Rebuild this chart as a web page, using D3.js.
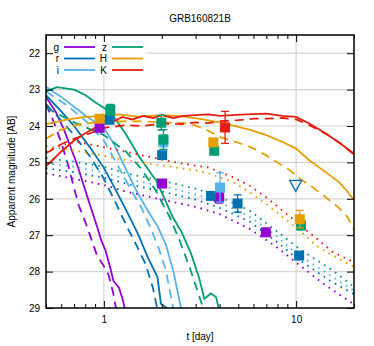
<!DOCTYPE html>
<html>
<head>
<meta charset="utf-8">
<script src="https://cdn.jsdelivr.net/npm/d3@7"></script>
<style>
  body { margin: 0; background: #fff; }
  text { font-family: "Liberation Sans", Arial, sans-serif; font-size: 10px; fill: #000; }
</style>
</head>
<body>
<svg id="chart" width="374" height="346"></svg>
<script>
// ---- data (t in days, AB mag) ----
var bands = ["g", "r", "i", "z", "H", "K"];
var legendLabels = ["g", "r", "i", "z", "H", "K"];
var yTicks = [22, 23, 24, 25, 26, 27, 28, 29];
var xMajor = [1, 10];
var xMinor = [0.5, 0.6, 0.7, 0.8, 0.9, 2, 3, 4, 5, 6, 7, 8, 9, 20];

// model curves: solid / dashed / dotted per band
var gSolid  = [[0.5,23.2],[0.56,23.6],[0.62,24.1],[0.68,24.66],[0.73,25.1],[0.78,25.58],[0.85,26.2],[0.92,26.75],[0.97,27.15],[1.02,27.42],[1.08,27.9],[1.12,28.25],[1.2,28.45],[1.25,28.75],[1.29,29.05]];
var gDashed = [[0.5,23.4],[0.55,23.9],[0.6,24.45],[0.65,25.05],[0.69,25.58],[0.74,26.18],[0.8,26.63],[0.86,27.1],[0.92,27.55],[1.0,27.85],[1.06,28.1],[1.12,28.6],[1.16,29.05]];
var gDotted = [[0.5,25.3],[0.7,25.45],[1,25.62],[1.3,25.8],[2,26.02],[3,26.22],[4,26.42],[5.7,26.82],[7.8,27.3],[10,27.75],[14,28.35],[20,28.9]];

var rSolid  = [[0.5,23.15],[0.6,23.6],[0.7,24.0],[0.85,24.6],[1.0,25.15],[1.15,25.75],[1.28,26.22],[1.5,26.95],[1.69,27.6],[1.9,28.15],[1.98,28.88],[2.1,28.98],[2.15,29.1]];
var rDashed = [[0.5,23.4],[0.6,23.85],[0.7,24.25],[0.85,24.85],[1.0,25.45],[1.15,26.1],[1.3,26.7],[1.5,27.35],[1.65,27.8],[1.8,28.45],[1.9,29.05]];
var rDotted = [[0.5,25.16],[0.7,25.27],[1,25.42],[1.3,25.58],[2,25.8],[3,26.02],[4,26.25],[5.7,26.62],[7.8,27.15],[10,27.62],[15,28.25],[20,28.62]];

var iSolid  = [[0.5,22.92],[0.6,23.2],[0.7,23.47],[0.82,23.75],[1.0,24.05],[1.13,24.5],[1.28,25.1],[1.45,25.7],[1.68,26.3],[1.9,26.75],[2.1,27.25],[2.3,28.0],[2.53,29.05]];
var iDashed = [[0.5,23.05],[0.65,23.45],[0.8,23.85],[1.0,24.4],[1.2,25.15],[1.4,25.8],[1.56,26.22],[1.75,26.8],[1.94,27.4],[2.1,27.95],[2.3,29.05]];
var iDotted = [[0.5,25.02],[0.7,25.12],[1,25.28],[1.3,25.45],[2,25.65],[3,25.88],[4,26.1],[5.7,26.48],[7.8,27.0],[10,27.5],[15,28.1],[20,28.52]];

var zSolid  = [[0.5,23.05],[0.57,22.93],[0.7,23.0],[0.8,23.15],[0.9,23.35],[1.0,23.5],[1.08,23.62],[1.2,23.95],[1.31,24.25],[1.53,24.85],[1.87,25.5],[2.05,25.95],[2.28,26.5],[2.53,26.9],[2.84,27.5],[3.14,28.2],[3.33,28.75],[3.6,28.6],[3.83,28.7],[3.98,29.05]];
var zDashed = [[0.5,23.5],[0.7,23.9],[1.0,24.25],[1.3,24.7],[1.55,25.15],[1.85,25.75],[2.2,26.5],[2.5,27.2],[2.8,27.9],[3.1,28.6],[3.3,29.05]];
var zDotted = [[0.5,24.88],[0.7,24.98],[1,25.12],[1.3,25.3],[2,25.5],[3,25.72],[4,25.95],[5.7,26.31],[7.8,26.86],[10.3,27.36],[15.4,27.96],[20,28.42]];

var hSolid  = [[0.5,23.95],[0.65,23.82],[0.8,23.75],[1.0,23.72],[1.2,23.68],[1.5,23.74],[2.0,23.7],[2.5,23.73],[3.1,23.8],[4.0,23.9],[4.66,23.98],[5.7,24.1],[7.0,24.25],[8.5,24.44],[10,24.62],[11.7,24.94],[14.2,25.26],[16.7,25.54],[18.5,25.8],[20,26.04]];
var hDashed = [[0.5,24.35],[0.6,24.1],[0.75,23.95],[1.0,23.88],[1.5,23.87],[2.0,23.9],[2.8,23.93],[3.4,24.1],[4.0,24.3],[4.87,24.44],[5.93,24.6],[6.95,24.8],[8.15,25.03],[9.2,25.2],[10.4,25.44],[12.1,25.67],[14.2,25.95],[16.7,26.25],[18.5,26.5],[20,26.85]];
var hDotted = [[0.5,24.55],[0.75,24.7],[1,24.82],[1.5,25.0],[2,25.08],[3,25.22],[3.5,25.3],[4.66,25.53],[5.7,25.81],[6.95,26.13],[8.5,26.5],[10.4,26.86],[12.6,27.27],[15.4,27.55],[20,27.87]];

var kSolid  = [[0.5,25.1],[0.55,24.9],[0.6,24.7],[0.7,24.4],[0.8,24.2],[0.9,24.05],[1.0,23.85],[1.1,23.9],[1.25,23.75],[1.4,23.82],[1.6,23.72],[1.8,23.78],[2.0,23.7],[2.3,23.78],[2.6,23.72],[3.0,23.7],[3.5,23.68],[4.0,23.72],[4.66,23.7],[5.5,23.68],[7.0,23.66],[8.5,23.72],[10,23.75],[11.7,23.93],[14.2,24.2],[17,24.48],[20,24.76]];
var kDashed = [[0.5,24.75],[0.6,24.5],[0.7,24.35],[0.85,24.2],[1.0,24.05],[1.3,23.98],[1.6,24.0],[2.0,23.93],[2.5,23.95],[3.0,23.9],[3.5,23.92],[4.0,23.87],[5.0,23.84],[6.0,23.8],[7.0,23.8],[8.5,23.78],[10,23.82],[11.5,23.95],[13,24.1],[15,24.28],[17,24.48],[20,24.78]];
var kDotted = [[0.5,24.7],[0.6,24.52],[0.73,24.44],[1,24.58],[1.5,24.78],[2.3,24.99],[3.1,25.1],[3.5,25.14],[4.66,25.4],[5.7,25.63],[6.95,25.95],[8.4,26.3],[10,26.63],[12.5,27.05],[15.4,27.45],[20,27.75]];

// observations
var obsBand = ["g","g","g","g", "r","r","r","r","r", "i","i", "z","z","z","z","z", "H","H","H", "K"];
var obsT    = [0.95,2.01,3.98,6.96, 1.07,2.01,3.61,4.96,10.37, 2.04,4.02, 1.08,1.99,2.04,3.75,10.6, 0.95,3.71,10.45, 4.27];
var obsMag  = [24.05,25.58,25.97,26.92, 23.83,24.8,25.92,26.13,27.56, 24.45,25.69, 23.56,23.91,24.37,24.68,26.73, 23.8,24.45,26.56, 24.04];
var obsErr  = [0.08,0.1,0.15,0.1, 0.06,0.08,0.1,0.24,0.08, 0.2,0.4, 0.15,0.2,0.27,0.08,0.12, 0.1,0.08,0.24, 0.44];

// upper limit
var ulBand = ["r"];
var ulT = [9.95];
var ulMag = [25.63];

// ---- styles ----
var color = {g: "#9400d3", r: "#0072b2", i: "#56b4e9", z: "#009e73", H: "#e69f00", K: "#e51e10"};
var curves = [
  {b: "g", s: "solid", d: gSolid}, {b: "g", s: "dashed", d: gDashed}, {b: "g", s: "dotted", d: gDotted},
  {b: "r", s: "solid", d: rSolid}, {b: "r", s: "dashed", d: rDashed}, {b: "r", s: "dotted", d: rDotted},
  {b: "i", s: "solid", d: iSolid}, {b: "i", s: "dashed", d: iDashed}, {b: "i", s: "dotted", d: iDotted},
  {b: "z", s: "solid", d: zSolid}, {b: "z", s: "dashed", d: zDashed}, {b: "z", s: "dotted", d: zDotted},
  {b: "H", s: "solid", d: hSolid}, {b: "H", s: "dashed", d: hDashed}, {b: "H", s: "dotted", d: hDotted},
  {b: "K", s: "solid", d: kSolid}, {b: "K", s: "dashed", d: kDashed}, {b: "K", s: "dotted", d: kDotted}
];
var dash = {solid: null, dashed: "9,6", dotted: "1.6,5"};

var svg = d3.select("#chart"),
    margin = {top: 35, right: 20, bottom: 38, left: 46},
    W = +svg.attr("width"), H = +svg.attr("height"),
    width = W - margin.left - margin.right,
    height = H - margin.top - margin.bottom;

var x = d3.scaleLog().domain([0.5, 20]).range([0, width]);
var y = d3.scaleLinear().domain([21.5, 29]).range([0, height]);

var g = svg.append("g").attr("transform", "translate(" + margin.left + "," + margin.top + ")");

svg.append("defs").append("clipPath").attr("id", "clip")
  .append("rect").attr("width", width).attr("height", height);

// grid
g.selectAll(".hgrid").data(yTicks.slice(0, -1)).enter().append("line")
  .attr("x1", 0).attr("x2", width)
  .attr("y1", function(d){ return y(d); }).attr("y2", function(d){ return y(d); })
  .attr("stroke", "#d4d4d4").attr("stroke-width", 1.2);
g.selectAll(".vgrid").data(xMajor).enter().append("line")
  .attr("y1", 0).attr("y2", height)
  .attr("x1", function(d){ return x(d); }).attr("x2", function(d){ return x(d); })
  .attr("stroke", "#d4d4d4").attr("stroke-width", 1.2);

// model lines
var line = d3.line()
  .x(function(d){ return x(d[0]); })
  .y(function(d){ return y(d[1]); });

var plot = g.append("g").attr("clip-path", "url(#clip)");

plot.selectAll(".model").data(curves).enter().append("path")
  .attr("class", "model")
  .attr("d", function(c){ return line(c.d); })
  .attr("fill", "none")
  .attr("stroke", function(c){ return color[c.b]; })
  .attr("stroke-width", function(c){ return c.s === "dotted" ? 1.9 : 1.8; })
  .attr("stroke-dasharray", function(c){ return dash[c.s]; });

// observed points
var obs = obsT.map(function(t, k){
  return {b: obsBand[k], t: t, m: obsMag[k], e: obsErr[k]};
});
obs.sort(function(a, b){ return bands.indexOf(a.b) - bands.indexOf(b.b); });

var pts = plot.selectAll(".pt").data(obs).enter().append("g").attr("class", "pt")
  .attr("transform", function(d){ return "translate(" + x(d.t) + "," + y(d.m) + ")"; });
pts.append("path")
  .attr("d", function(d){
    var t = y(d.m - d.e) - y(d.m), b = y(d.m + d.e) - y(d.m);
    return "M0," + t + "V" + b + "M-4," + t + "H4M-4," + b + "H4";
  })
  .attr("stroke", function(d){ return color[d.b]; })
  .attr("stroke-width", 1.3).attr("fill", "none");
pts.append("rect")
  .attr("x", -5).attr("y", -5).attr("width", 10).attr("height", 10)
  .attr("fill", function(d){ return color[d.b]; });

// upper limit
plot.selectAll(".ul").data(ulT).enter().append("path")
  .attr("d", function(t, k){
    var cx = x(t), cy = y(ulMag[k]);
    return "M" + (cx - 6) + "," + (cy - 5) + "H" + (cx + 6) + "L" + cx + "," + (cy + 6) + "Z";
  })
  .attr("fill", "none")
  .attr("stroke", function(t, k){ return color[ulBand[k]]; })
  .attr("stroke-width", 1.4);

// legend
g.append("rect").attr("x", 1).attr("y", 1).attr("width", 100).attr("height", 39).attr("fill", "#fff");
var leg = g.selectAll(".leg").data(legendLabels).enter().append("g")
  .attr("transform", function(d, k){
    return "translate(" + (k < 3 ? 0 : 48) + "," + (12 + (k % 3) * 11.5) + ")";
  });
leg.append("text").attr("x", 13).attr("y", 3.5).attr("text-anchor", "end").text(function(d){ return d; });
leg.append("line").attr("x1", 18).attr("x2", 49).attr("y1", 0).attr("y2", 0)
  .attr("stroke", function(d){ return color[d]; }).attr("stroke-width", 1.8);

// axes
var xAxis = d3.axisBottom(x).tickValues(xMajor).tickSize(-7).tickPadding(8).tickFormat(d3.format("d"));
var xAxisMinor = d3.axisBottom(x).tickValues(xMinor).tickSize(-4).tickFormat("");
var xTop = d3.axisTop(x).tickValues(xMajor).tickSize(-7).tickFormat("");
var xTopMinor = d3.axisTop(x).tickValues(xMinor).tickSize(-4).tickFormat("");
var yAxis = d3.axisLeft(y).tickValues(yTicks).tickSize(-7).tickPadding(6);
var yRight = d3.axisRight(y).tickValues(yTicks).tickSize(-7).tickFormat("");

g.append("g").attr("transform", "translate(0," + height + ")").call(xAxis);
g.append("g").attr("transform", "translate(0," + height + ")").call(xAxisMinor);
g.append("g").call(xTop);
g.append("g").call(xTopMinor);
g.append("g").call(yAxis);
g.append("g").attr("transform", "translate(" + width + ",0)").call(yRight);
g.selectAll(".domain").remove();
g.selectAll(".tick line").attr("stroke", "#000");
g.selectAll(".tick text").style("font-size", "10px").style("font-family", "Liberation Sans, Arial, sans-serif");

g.append("rect").attr("width", width).attr("height", height)
  .attr("fill", "none").attr("stroke", "#000").attr("stroke-width", 1.5);

// labels
svg.append("text").attr("x", margin.left + width / 2).attr("y", 22)
  .attr("text-anchor", "middle").text("GRB160821B");
svg.append("text").attr("x", margin.left + width / 2).attr("y", 340)
  .attr("text-anchor", "middle").text("t [day]");
svg.append("text").attr("transform", "translate(15," + (margin.top + height / 2) + ") rotate(-90)")
  .attr("text-anchor", "middle").text("Apparent magnitude [AB]");
</script>
</body>
</html>
